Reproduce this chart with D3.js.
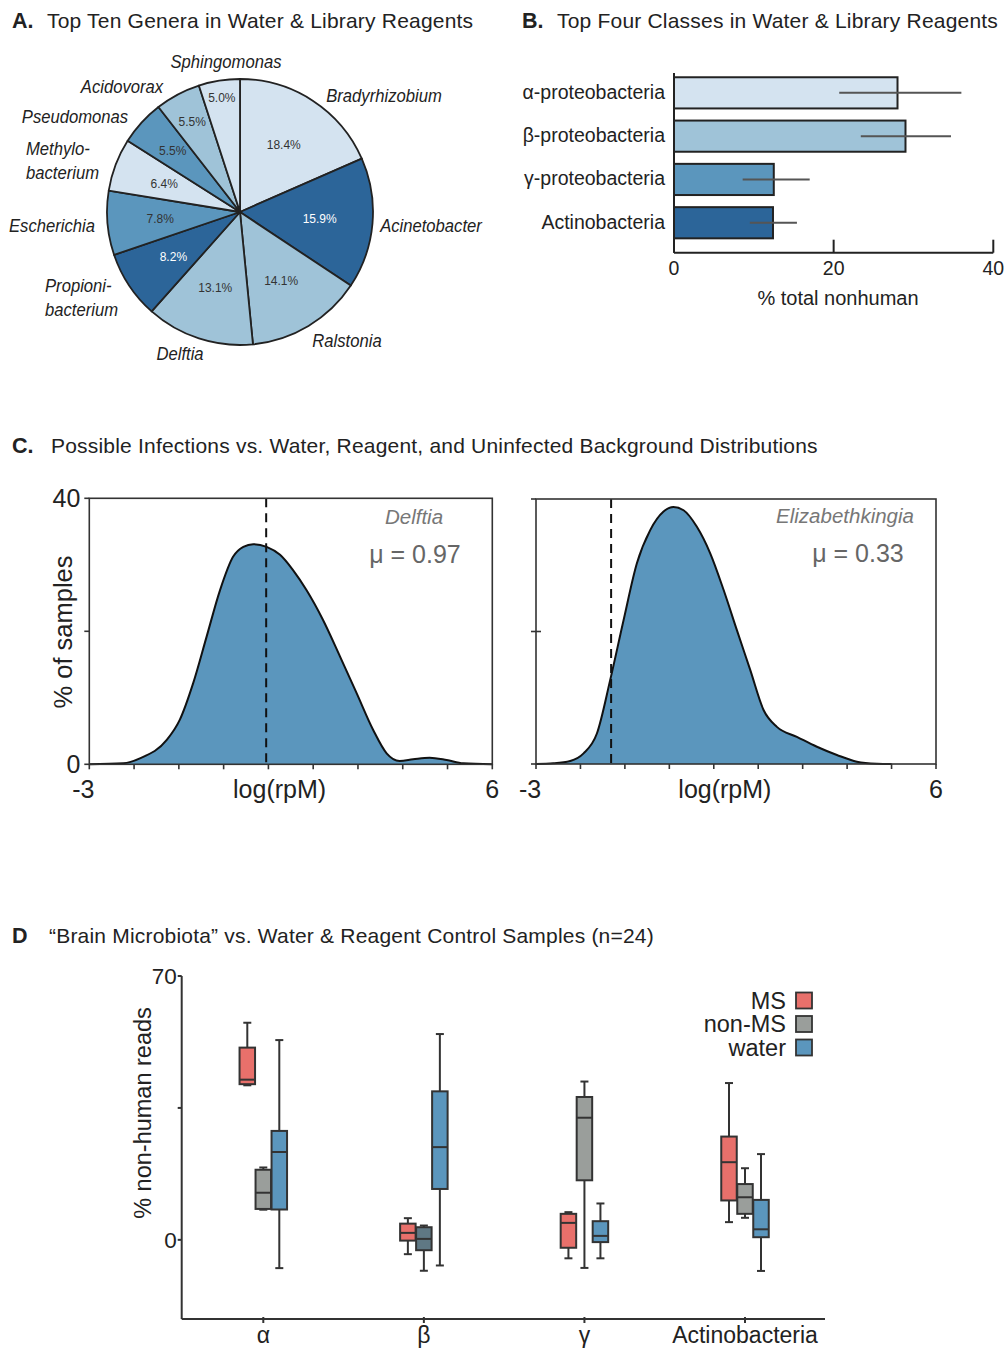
<!DOCTYPE html>
<html><head><meta charset="utf-8">
<script src="https://cdn.jsdelivr.net/npm/d3@7"></script>
<style>
body{margin:0;background:#fff}
svg{display:block}
text{font-family:"Liberation Sans",Arial,Helvetica,sans-serif;fill:#222}
</style>
</head><body>
<svg id="c" width="1008" height="1348"></svg>
<script>
// ---------- Panel A data ----------
const genera = ["Bradyrhizobium","Acinetobacter","Ralstonia","Delftia","Propionibacterium","Escherichia","Methylobacterium","Pseudomonas","Acidovorax","Sphingomonas"];
const generaPct = [18.4,15.9,14.1,13.1,8.2,7.8,6.4,5.5,5.5,5.0];
const generaLabelLines = [["Bradyrhizobium"],["Acinetobacter"],["Ralstonia"],["Delftia"],["Propioni-","bacterium"],["Escherichia"],["Methylo-","bacterium"],["Pseudomonas"],["Acidovorax"],["Sphingomonas"]];
const generaShade = [0,3,1,1,3,2,0,2,1,0];

// ---------- Panel B data ----------
const classes = ["α-proteobacteria","β-proteobacteria","γ-proteobacteria","Actinobacteria"];
const classPct = [28.0,29.0,12.5,12.4];
const classErrLow = [20.7,23.4,8.6,9.5];
const classErrHigh = [36.0,34.7,17.0,15.4];
const classTicks = [0,20,40];

// ---------- Panel C data ----------
const delftiaX = [-3,-2.24,-1.87,-1.27,-0.98,-0.68,-0.38,-0.08,0.21,0.44,0.66,0.96,1.26,1.55,1.85,2.22,2.60,2.97,3.34,3.64,3.93,4.23,4.60,4.98,5.35,6];
const delftiaY = [0,0.15,0.9,3.66,6.67,12.2,19.2,26.2,31.2,32.7,33.1,32.7,31.5,29.2,26.2,21.7,16.2,10.7,5.16,1.65,0.5,0.75,1.0,0.65,0.15,0];
const elizX = [-3,-2.61,-2.23,-1.93,-1.63,-1.33,-1.03,-0.73,-0.43,-0.13,0.09,0.32,0.62,0.92,1.22,1.52,1.82,2.12,2.42,2.87,3.32,3.77,4.22,4.67,5.0];
const elizY = [0,0.1,0.45,1.6,4.6,12.7,21.7,30.3,35.3,38.1,38.8,38.3,35.8,31.8,26.3,20.2,14.2,8.15,5.6,4.1,2.6,1.36,0.35,0.05,0];
const densNames = ["Delftia","Elizabethkingia"];
const densMu = ["μ = 0.97","μ = 0.33"];
const densMarker = [0.95,-1.31];
const densXTicks = [-3,-2,-1,0,1,2,3,4,5,6];
const densYTicks = [0,20,40];

// ---------- Panel D data ----------
const boxCats = ["α","β","γ","Actinobacteria"];
const boxSeries = ["MS","non-MS","water"];
// [low whisker, q1, median, q3, high whisker] per category
const msBoxes    = [[41.0,41.3,42.5,51.0,57.6],[-3.8,-0.2,1.85,4.3,5.75],[-4.9,-2.1,4.5,6.9,7.35],[4.7,10.45,20.6,27.4,41.6]];
const nonMsBoxes = [[8.0,8.2,12.5,18.6,19.2],[-8.2,-2.75,0.25,3.35,3.8],[-7.45,15.8,32.4,37.9,42.0],[5.85,6.9,11.3,14.8,19.0]];
const waterBoxes = [[-7.5,8.05,23.3,28.9,53.0],[-6.8,13.5,24.6,39.4,54.6],[-4.9,-0.6,1.05,4.95,9.65],[-8.25,0.7,2.8,10.6,22.75]];
const boxTicks = [0,35,70];

// ---------- styles ----------
const blues = ["#d4e3f0","#9fc3d8","#5b96bd","#2c6599"];
const seriesColors = ["#e8706b","#9a9e9b","#5b96bd"];
const svg = d3.select("#c");

function title(x, letter, x2, text, y){
  svg.append("text").attr("x",x).attr("y",y).attr("font-size",21.5).attr("font-weight","bold").text(letter);
  svg.append("text").attr("x",x2).attr("y",y).attr("font-size",21).attr("letter-spacing",0.2).text(text);
}
title(12,"A.",47,"Top Ten Genera in Water & Library Reagents",28);
title(522,"B.",557,"Top Four Classes in Water & Library Reagents",28);
title(12,"C.",51,"Possible Infections vs. Water, Reagent, and Uninfected Background Distributions",453);
title(12,"D",49,"“Brain Microbiota” vs. Water & Reagent Control Samples (n=24)",943);

// ---------- Panel A: pie ----------
(function(){
  const cx=240, cy=212, r=133;
  const g = svg.append("g").attr("transform",`translate(${cx},${cy})`);
  const pie = d3.pie().sort(null).value(d=>d)(generaPct);
  const arc = d3.arc().innerRadius(0).outerRadius(r);
  g.selectAll("path").data(pie).join("path")
    .attr("d",arc).attr("fill",(d,i)=>blues[generaShade[i]])
    .attr("stroke","#222").attr("stroke-width",1.8).attr("stroke-linejoin","round");
  const pctR = [80,80,80,80,80,80,81,91,102,116];
  g.selectAll("text.pct").data(pie).join("text").attr("class","pct")
    .attr("transform",(d,i)=>{const c=d3.arc().innerRadius(pctR[i]).outerRadius(pctR[i]).centroid(d);return `translate(${c[0]},${c[1]})`;})
    .attr("text-anchor","middle").attr("dy","0.36em").attr("font-size",12)
    .style("fill",(d,i)=>generaShade[i]===3?"#fff":"#333")
    .text(d=>d.value.toFixed(1)+"%");
  // outer labels: anchor, x, baseline y (layout)
  const lab = [
    ["middle",384,102],["middle",431,232],["middle",347,347],["middle",180,360],
    ["start",45,292],["middle",52,232],["start",26,155],["middle",75,123],
    ["middle",122,93],["middle",226,68]
  ];
  genera.forEach((name,i)=>{
    const [anc,x,y]=lab[i];
    generaLabelLines[i].forEach((ln,j)=>{
      svg.append("text").attr("transform",`translate(${x},${y+j*23.5}) scale(0.9,1)`)
        .attr("text-anchor",anc).attr("font-size",18.5).attr("font-style","italic").text(ln);
    });
  });
})();

// ---------- Panel B: bars ----------
(function(){
  const x = d3.scaleLinear().domain([0,40]).range([674,993.3]);
  const y = d3.scaleBand().domain(classes).range([71.2,244.4]).paddingInner(0.28).paddingOuter(0.14);
  const yb = 252.7;
  svg.selectAll("rect.cls").data(classes).join("rect").attr("class","cls")
    .attr("x",x(0)).attr("y",d=>y(d)).attr("width",(d,i)=>x(classPct[i])-x(0)).attr("height",y.bandwidth())
    .attr("fill",(d,i)=>blues[i]).attr("stroke","#222").attr("stroke-width",2);
  svg.selectAll("line.err").data(classes).join("line").attr("class","err")
    .attr("x1",(d,i)=>x(classErrLow[i])).attr("x2",(d,i)=>x(classErrHigh[i]))
    .attr("y1",d=>y(d)+y.bandwidth()/2).attr("y2",d=>y(d)+y.bandwidth()/2)
    .attr("stroke","#555").attr("stroke-width",2);
  svg.append("line").attr("x1",674).attr("x2",674).attr("y1",73).attr("y2",yb).attr("stroke","#222").attr("stroke-width",2);
  svg.append("line").attr("x1",674).attr("x2",x(40)).attr("y1",yb).attr("y2",yb).attr("stroke","#222").attr("stroke-width",2);
  classTicks.forEach(t=>{
    svg.append("line").attr("x1",x(t)).attr("x2",x(t)).attr("y1",yb).attr("y2",yb-13).attr("stroke","#222").attr("stroke-width",2);
    svg.append("text").attr("x",x(t)).attr("y",275).attr("text-anchor","middle").attr("font-size",19.5).text(t);
  });
  svg.selectAll("text.cl").data(classes).join("text").attr("class","cl")
    .attr("x",665).attr("y",d=>y(d)+y.bandwidth()/2).attr("dy","0.3em")
    .attr("text-anchor","end").attr("font-size",19.5).text(d=>d);
  svg.append("text").attr("x",838).attr("y",305).attr("text-anchor","middle").attr("font-size",20).text("% total nonhuman");
})();

// ---------- Panel C: densities ----------
function density(x0,x1,yTop,yBot,xs,ys,idx,showYLabels){
  const x = d3.scaleLinear().domain([-3,6]).range([x0,x1]);
  const y = d3.scaleLinear().domain([0,40]).range([yBot,yTop]);
  const pts = xs.map((v,i)=>[v,ys[i]]);
  const area = d3.area().x(d=>x(d[0])).y0(y(0)).y1(d=>y(d[1])).curve(d3.curveMonotoneX);
  const line = d3.line().x(d=>x(d[0])).y(d=>y(d[1])).curve(d3.curveMonotoneX);
  svg.append("path").attr("d",area(pts)).attr("fill","#5b96bd");
  svg.append("path").attr("d",line(pts)).attr("fill","none").attr("stroke","#111").attr("stroke-width",2);
  svg.append("line").attr("x1",x(densMarker[idx])).attr("x2",x(densMarker[idx])).attr("y1",y(40)).attr("y2",y(0))
    .attr("stroke","#111").attr("stroke-width",2).attr("stroke-dasharray","9,6");
  svg.append("rect").attr("x",x0).attr("y",yTop).attr("width",x1-x0).attr("height",yBot-yTop)
    .attr("fill","none").attr("stroke","#333").attr("stroke-width",1.6);
  densXTicks.forEach(t=>{
    svg.append("line").attr("x1",x(t)).attr("x2",x(t)).attr("y1",yBot).attr("y2",yBot+5).attr("stroke","#333").attr("stroke-width",1.6);
  });
  densYTicks.forEach(t=>{
    svg.append("line").attr("x1",x0-5).attr("x2",x0+(showYLabels||t!==20?0:5)).attr("y1",y(t)).attr("y2",y(t)).attr("stroke","#333").attr("stroke-width",1.6);
  });
  if(showYLabels){
    [0,40].forEach(t=>svg.append("text").attr("x",x0-9).attr("y",y(t)).attr("dy","0.36em").attr("text-anchor","end").attr("font-size",25).text(t));
  }
  svg.append("text").attr("x",x(-3)-6).attr("y",798).attr("text-anchor","middle").attr("font-size",25).text("-3");
  svg.append("text").attr("x",x(6)).attr("y",798).attr("text-anchor","middle").attr("font-size",25).text("6");
  svg.append("text").attr("x",x(1.25)).attr("y",798).attr("text-anchor","middle").attr("font-size",25).text("log(rpM)");
  return x;
}
(function(){
  density(89.3,492.3,498.3,764.3,delftiaX,delftiaY,0,true);
  density(536,936,499,764,elizX,elizY,1,false);
  svg.append("text").attr("x",414).attr("y",524).attr("text-anchor","middle").attr("font-size",20.5).attr("font-style","italic").style("fill","#777").text(densNames[0]);
  svg.append("text").attr("x",415).attr("y",563).attr("text-anchor","middle").attr("font-size",25).style("fill","#666").text(densMu[0]);
  svg.append("text").attr("x",845).attr("y",523).attr("text-anchor","middle").attr("font-size",20.5).attr("font-style","italic").style("fill","#777").text(densNames[1]);
  svg.append("text").attr("x",858).attr("y",562).attr("text-anchor","middle").attr("font-size",25).style("fill","#666").text(densMu[1]);
  svg.append("text").attr("transform","translate(72,632) rotate(-90)").attr("text-anchor","middle").attr("font-size",25.5).text("% of samples");
})();

// ---------- Panel D: box plots ----------
(function(){
  const y = d3.scaleLinear().domain([-21,70]).range([1319,976]);
  const xc = d3.scalePoint().domain(boxCats).range([263.3,745]);
  const xs = d3.scaleBand().domain(boxSeries).range([-24,24]);
  const bw = 15.5;
  const all = [msBoxes,nonMsBoxes,waterBoxes];
  const ax0 = 181.7, axY = 1319;
  boxCats.forEach((c,ci)=>{
    boxSeries.forEach((s,si)=>{
      const [lo,q1,md,q3,hi] = all[si][ci];
      const cx = xc(c)+xs(s)+xs.bandwidth()/2;
      const g = svg.append("g");
      g.append("line").attr("x1",cx).attr("x2",cx).attr("y1",y(hi)).attr("y2",y(lo)).attr("stroke","#333").attr("stroke-width",2);
      [lo,hi].forEach(v=>g.append("line").attr("x1",cx-4).attr("x2",cx+4).attr("y1",y(v)).attr("y2",y(v)).attr("stroke","#333").attr("stroke-width",2));
      const fill = (c==="β"&&s==="non-MS")?"#5f7884":seriesColors[si];
      g.append("rect").attr("x",cx-bw/2).attr("y",y(q3)).attr("width",bw).attr("height",y(q1)-y(q3))
        .attr("fill",fill).attr("stroke","#333").attr("stroke-width",2);
      g.append("line").attr("x1",cx-bw/2).attr("x2",cx+bw/2).attr("y1",y(md)).attr("y2",y(md)).attr("stroke","#333").attr("stroke-width",2);
    });
  });
  svg.append("line").attr("x1",ax0).attr("x2",ax0).attr("y1",y(70)).attr("y2",axY).attr("stroke","#333").attr("stroke-width",2);
  svg.append("line").attr("x1",ax0).attr("x2",825).attr("y1",axY).attr("y2",axY).attr("stroke","#333").attr("stroke-width",2);
  boxTicks.forEach(t=>{
    svg.append("line").attr("x1",ax0-4).attr("x2",ax0).attr("y1",y(t)).attr("y2",y(t)).attr("stroke","#333").attr("stroke-width",2);
  });
  [0,70].forEach(t=>svg.append("text").attr("x",ax0-5).attr("y",y(t)).attr("dy","0.36em").attr("text-anchor","end").attr("font-size",22.5).text(t));
  boxCats.forEach(c=>{
    svg.append("line").attr("x1",xc(c)).attr("x2",xc(c)).attr("y1",axY-2).attr("y2",axY+4).attr("stroke","#333").attr("stroke-width",2);
    svg.append("text").attr("x",xc(c)).attr("y",1343).attr("text-anchor","middle").attr("font-size",23).text(c);
  });
  svg.append("text").attr("transform","translate(151,1113) rotate(-90)").attr("text-anchor","middle").attr("font-size",23.5).text("% non-human reads");
  boxSeries.forEach((s,i)=>{
    const ly = 1000.5 + i*23.5;
    svg.append("rect").attr("x",796).attr("y",ly-8).attr("width",16).attr("height",16)
      .attr("fill",seriesColors[i]).attr("stroke","#333").attr("stroke-width",1.8);
    svg.append("text").attr("x",786).attr("y",ly).attr("dy","0.36em").attr("text-anchor","end").attr("font-size",23.5).text(s);
  });
})();
</script>
</body></html>
